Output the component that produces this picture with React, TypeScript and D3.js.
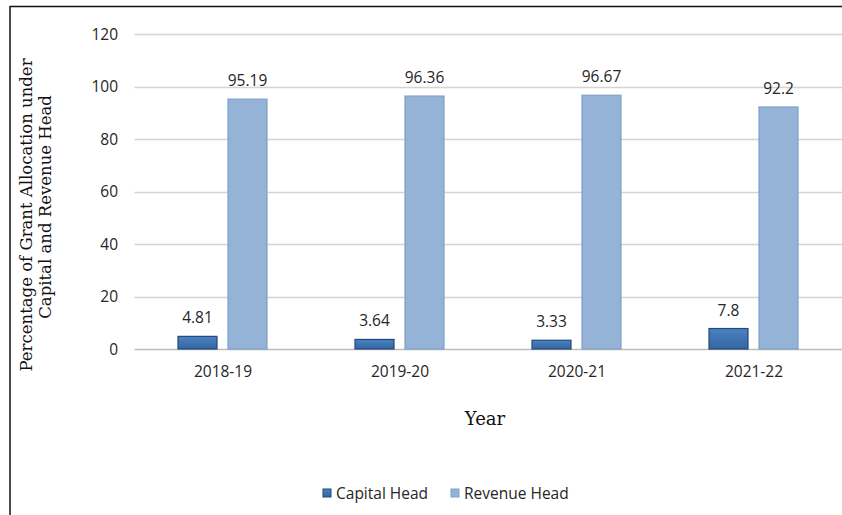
import React from "react";
import * as d3 from "d3";

const categories = ["2018-19", "2019-20", "2020-21", "2021-22"];
const seriesNames = ["Capital Head", "Revenue Head"];
const capitalHead = [4.81, 3.64, 3.33, 7.8];
const revenueHead = [95.19, 96.36, 96.67, 92.2];
const capitalLabels = ["4.81", "3.64", "3.33", "7.8"];
const revenueLabels = ["95.19", "96.36", "96.67", "92.2"];
const yTicks = [0, 20, 40, 60, 80, 100, 120];

const W = 842;
const H = 515;
const fills = ["#3b73b2", "#95b3d7"];
const strokes = ["#22497a", "#7fa1c9"];
const sans = "'Open Sans', 'Liberation Sans', sans-serif";
const serif = "'DejaVu Serif', serif";

export default function App() {
  const x = d3.scaleBand<string>().domain(categories).range([134.5, 842.5]).padding(0);
  const x1 = d3.scaleBand<string>().domain(seriesNames).range([-45, 44]).paddingInner(0.22).paddingOuter(0);
  const y = d3.scaleLinear().domain([0, 120]).range([349, 34]);
  const values = [capitalHead, revenueHead];
  const labels = [capitalLabels, revenueLabels];

  return (
    <svg
      width={W}
      height={H}
      style={{ position: "absolute", left: 0, top: 0, background: "#fff" }}
    >
      <defs>
        <linearGradient id="capGrad" x1="0" y1="0" x2="0" y2="1">
          <stop offset="0%" stopColor="#4a82c0" />
          <stop offset="100%" stopColor="#3466a3" />
        </linearGradient>
      </defs>
      <rect x={0} y={0} width={W} height={H} fill="#fff" />
      {/* frame */}
      <line x1={10} y1={6.5} x2={W} y2={6.5} stroke="#111" strokeWidth={1.5} />
      <line x1={10} y1={6} x2={10} y2={H} stroke="#111" strokeWidth={1.5} />

      {/* gridlines */}
      {yTicks.map((t) => (
        <line
          key={t}
          x1={134.5}
          x2={842}
          y1={Math.round(y(t)) + 0.5}
          y2={Math.round(y(t)) + 0.5}
          stroke={t === 0 ? "#bdbdbd" : "#d4d4d4"}
          strokeWidth={1.3}
        />
      ))}
      {yTicks.map((t) => (
        <text
          key={"l" + t}
          x={118}
          y={y(t)}
          dy="0.36em"
          textAnchor="end"
          fontFamily={sans}
          fontSize={15.5}
          fill="#262626"
        >
          {t}
        </text>
      ))}

      {/* bars */}
      {categories.map((c, i) => {
        const cx = (x(c) as number) + x.bandwidth() / 2;
        return (
          <g key={c}>
            {seriesNames.map((s, k) => {
              const v = values[k][i];
              const bx = cx + (x1(s) as number);
              const bw = x1.bandwidth();
              return (
                <g key={s}>
                  <rect
                    x={bx}
                    y={y(v)}
                    width={bw}
                    height={y(0) - y(v)}
                    fill={k === 0 ? "url(#capGrad)" : fills[k]}
                    stroke={strokes[k]}
                    strokeWidth={1.2}
                  />
                  <text
                    x={bx + bw / 2}
                    y={y(v) - 13}
                    textAnchor="middle"
                    fontFamily={sans}
                    fontSize={15.5}
                    fill="#262626"
                  >
                    {labels[k][i]}
                  </text>
                </g>
              );
            })}
            <text
              x={cx}
              y={377}
              textAnchor="middle"
              fontFamily={sans}
              fontSize={15.5}
              fill="#262626"
            >
              {c}
            </text>
          </g>
        );
      })}

      {/* axis titles */}
      <text
        transform="translate(32,215) rotate(-90)"
        textAnchor="middle"
        fontFamily={serif}
        fontSize={16.5}
        fill="#111"
      >
        Percentage of Grant Allocation under
      </text>
      <text
        transform="translate(51,207) rotate(-90)"
        textAnchor="middle"
        fontFamily={serif}
        fontSize={16.5}
        fill="#111"
      >
        Capital and Revenue Head
      </text>
      <text x={485} y={425} textAnchor="middle" fontFamily={serif} fontSize={18} fill="#111">
        Year
      </text>

      {/* legend */}
      {seriesNames.map((s, k) => {
        const lx = [323, 451][k];
        return (
          <g key={"lg" + s}>
            <rect x={lx} y={489} width={8} height={8} fill={k === 0 ? "url(#capGrad)" : fills[k]} stroke={strokes[k]} strokeWidth={1} />
            <text
              x={lx + 13}
              y={493}
              dy="0.36em"
              fontFamily={sans}
              fontSize={15.5}
              fill="#262626"
            >
              {s}
            </text>
          </g>
        );
      })}
    </svg>
  );
}
